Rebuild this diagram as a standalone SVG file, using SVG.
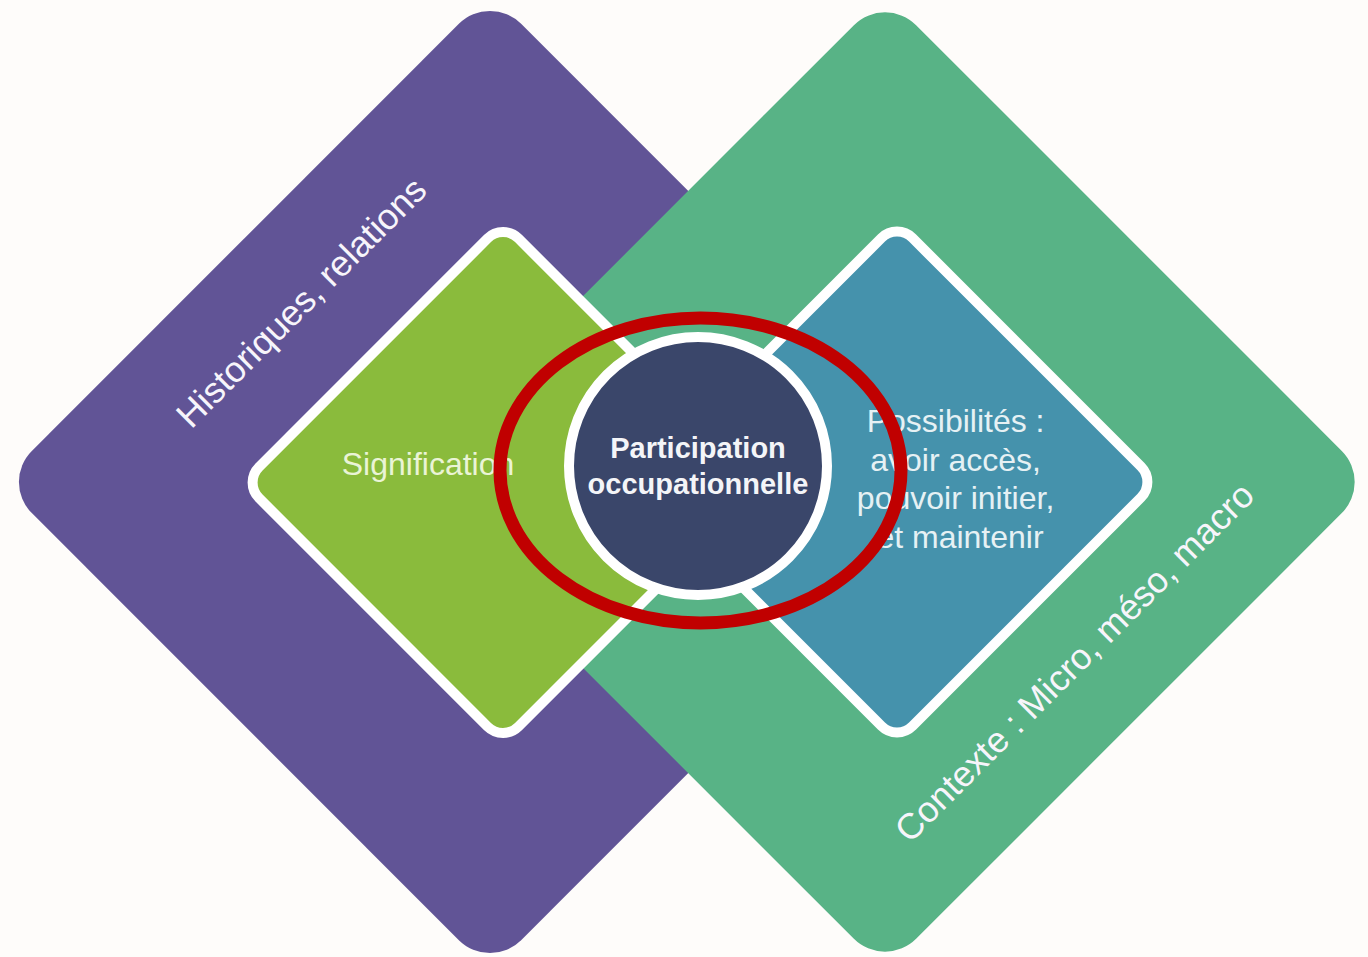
<svg xmlns="http://www.w3.org/2000/svg" width="1368" height="957" viewBox="0 0 1368 957">
  <style>
    .lbl { font-family: "Liberation Sans", Arial, sans-serif; }
    .rot { font-size: 36px; fill: #F7F5FB; text-anchor: middle; }
    .inner { font-size: 32px; text-anchor: middle; }
    .core { font-size: 29px; font-weight: bold; fill: #F4F5F8; text-anchor: middle; }
    .box { stroke: #FFFFFF; stroke-width: 10; }
  </style>
  <rect x="0" y="0" width="1368" height="957" fill="#FEFCFA"/>

  <g id="node-historiques">
    <rect x="-346" y="-346" width="692" height="692" rx="44" fill="#615496" transform="translate(490,482) rotate(45)"/>
  </g>
  <g id="node-contexte">
    <rect x="-345" y="-345" width="690" height="690" rx="44" fill="#58B386" transform="translate(885,482) rotate(45)"/>
  </g>
  <g id="node-signification">
    <rect class="box" x="-183.5" y="-183.5" width="367" height="367" rx="22" fill="#8ABB3C" transform="translate(503,482.5) rotate(45)"/>
  </g>
  <g id="node-possibilites">
    <rect class="box" x="-183.5" y="-183.5" width="367" height="367" rx="22" fill="#4592AC" transform="translate(897,482) rotate(45)"/>
  </g>

  <g id="labels-outer">
    <text class="lbl rot" transform="translate(310,311) rotate(-45)">Historiques, relations</text>
    <text class="lbl rot" transform="translate(1083,671) rotate(-45)">Contexte : Micro, méso, macro</text>
  </g>
  <g id="labels-inner">
    <text class="lbl inner" x="428" y="475" fill="#EAF4D6">Signification</text>
    <text class="lbl inner" fill="#E6F1F4">
      <tspan x="960" y="432">Possibilités :</tspan>
      <tspan x="960" y="471">avoir accès,</tspan>
      <tspan x="960" y="509">pouvoir initier,</tspan>
      <tspan x="960" y="548">et maintenir</tspan>
    </text>
  </g>

  <g id="node-participation">
    <circle cx="698" cy="466" r="129" fill="#3A466A" stroke="#FFFFFF" stroke-width="10"/>
    <text class="lbl core" x="698" y="458">Participation</text>
    <text class="lbl core" x="698" y="494">occupationnelle</text>
  </g>

  <g id="connectors">
    <ellipse cx="700.5" cy="470.5" rx="200.5" ry="152.5" fill="none" stroke="#C00000" stroke-width="13"/>
  </g>
</svg>
